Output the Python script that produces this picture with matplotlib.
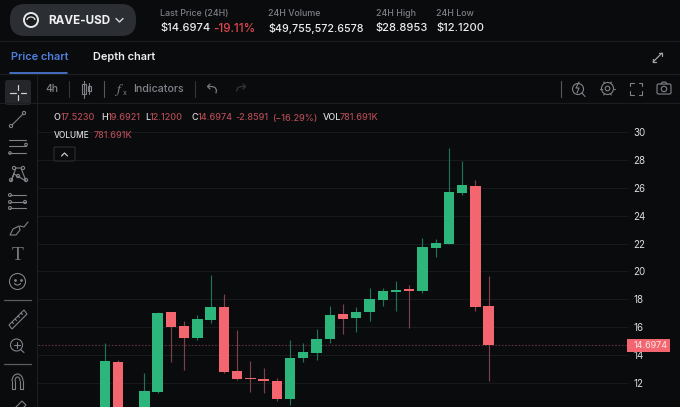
import numpy as np
import matplotlib
matplotlib.use('Agg')
import matplotlib.pyplot as plt
from matplotlib.patches import Circle, FancyBboxPatch, Rectangle, Arc, Polygon

plt.rcParams['font.family'] = ['Inter', 'DejaVu Sans']

# candle values, x is the slot number (slot 2 is off the bottom)
slots = [0, 1, 3, 4, 5, 6, 7, 8, 9, 10, 11, 12, 13, 14, 15, 16, 17, 18, 19, 20, 21, 22, 23, 24, 25, 26, 27, 28, 29]
opens = [9.9, 13.5, 9.9, 11.35, 17.11, 16.08, 15.22, 16.51, 17.42, 12.86, 12.3, 12.3, 12.16, 10.85, 13.77, 14.15, 15.13,
         16.92, 16.66, 17.09, 17.95, 18.52, 18.69, 18.62, 21.68, 21.99, 25.6, 26.15, 17.5]
highs = [14.84, 13.64, 12.69, 17.11, 17.11, 16.44, 16.85, 19.75, 18.38, 15.8, 13.55, 13.05, 12.33, 15.08, 14.89, 15.85, 17.52,
         17.68, 17.47, 18.83, 18.79, 19.31, 19.03, 22.37, 22.32, 28.85, 27.9, 26.56, 19.69]
lows = [9.0, 9.0, 9.0, 11.3, 13.5, 12.93, 15.08, 16.32, 12.69, 12.2, 11.35, 11.25, 10.68, 10.44, 13.52, 13.64, 14.84,
        15.53, 15.68, 16.46, 17.52, 17.16, 15.92, 18.45, 21.0, 21.99, 25.46, 17.16, 12.12]
closes = [13.55, 9.9, 11.4, 17.04, 16.03, 15.22, 16.56, 17.42, 12.81, 12.26, 12.26, 12.12, 10.82, 13.81, 14.2, 15.17, 16.9,
          16.59, 17.11, 18.02, 18.57, 18.67, 18.62, 21.77, 22.04, 25.7, 26.2, 17.47, 14.6974]
y_ticks = [12, 14, 16, 18, 20, 22, 24, 26, 28, 30]
last_price = 14.6974

BG = '#0a0b0d'
GREEN = '#2db67c'
RED = '#f4666f'
GREEN_WICK = '#1d7355'
RED_WICK = '#7d4049'
LINE = '#1c1e22'
ICON = '#7f8288'
LEGEND_RED = '#b14a53'
LEGEND_KEY = '#d8d9db'
W, H = 680, 407

fig = plt.figure(figsize=(W / 100, H / 100), dpi=100, facecolor=BG)

# overlay in pixel coordinates for the app chrome round the chart
ui = fig.add_axes([0, 0, 1, 1], zorder=3)
ui.set_xlim(0, W)
ui.set_ylim(H, 0)
ui.axis('off')
ui.patch.set_alpha(0)


def line(xs, ys, c=ICON, lw=0.8):
    ui.plot(xs, ys, color=c, lw=lw, solid_capstyle='round')


def ring(x, y, r, c=ICON, lw=0.8):
    ui.add_patch(Circle((x, y), r, fill=False, ec=c, lw=lw))


def label(x, y, s, size, c='#e8e9eb', weight='normal', **kw):
    ui.text(x, y, s, fontsize=size, color=c, fontweight=weight, va='center', **kw)


# separators
for y in [41, 74, 103]:
    line([0, W], [y, y], LINE, 0.8)
line([37, 37], [75, H], LINE, 0.8)

# header
ui.add_patch(FancyBboxPatch((10, 4), 126, 32, boxstyle='round,pad=0,rounding_size=15',
                            fc='#2b2e33', ec='none'))
ui.add_patch(Circle((31, 20), 8, fc='#e4e5e6', ec='none'))
ui.add_patch(Circle((31, 20), 6, fc='#1b1c1e', ec='none'))
ui.add_patch(Arc((31, 20), 8, 6, theta1=180, theta2=360, ec='#e4e5e6', lw=0.9))
label(48, 20.5, 'RAVE-USD', 8.4, '#f0f1f2', 'bold')
line([116, 119.5, 123], [18.5, 22, 18.5], '#d8d9db', 1.0)

label(160.5, 13.5, 'Last Price (24H)', 6.4, '#7b7e84', 'medium')
label(160, 28.5, '$14.6974', 8.0, '#eceded', 'medium')
label(213, 28.5, '-19.11%', 8.4, '#e0454f', 'medium')
label(268.5, 13.5, '24H Volume', 6.4, '#7b7e84', 'medium')
label(268.5, 28.5, '$49,755,572.6578', 7.7, '#eceded', 'medium')
label(375.5, 13.5, '24H High', 6.4, '#7b7e84', 'medium')
label(375.5, 28.5, '$28.8953', 8.0, '#eceded', 'medium')
label(436.5, 13.5, '24H Low', 6.4, '#7b7e84', 'medium')
label(436.5, 28.5, '$12.1200', 8.0, '#eceded', 'medium')

# tabs
label(11, 57.5, 'Price chart', 7.9, '#4f7fdc', 'semibold')
label(93, 57.5, 'Depth chart', 7.9, '#eceded', 'semibold')
line([10, 67], [73, 73], '#4f7fdc', 1.2)
line([653, 662], [62, 53], '#a0a3a8', 0.9)
line([653, 653, 656], [59, 62, 62], '#a0a3a8', 0.9)
line([659, 662, 662], [53, 53, 56], '#a0a3a8', 0.9)

# top toolbar
label(45, 89.5, '4h', 7.4, '#80838a', 'medium')
line([68.5, 68.5], [81, 97], '#34363b', 0.8)
line([104, 104], [81, 97], '#55575c', 0.8)
line([194.5, 194.5], [81, 97], '#34363b', 0.8)
line([561, 561], [81, 97], '#55575c', 0.8)
ui.add_patch(Rectangle((82, 84), 3.5, 10, fill=False, ec=ICON, lw=0.8))
line([83.7, 83.7], [81, 98], ICON, 0.8)
ui.add_patch(Rectangle((87.5, 86), 3, 5, fill=False, ec=ICON, lw=0.8))
line([89, 89], [83, 94], ICON, 0.8)
ui.text(119, 89.5, r'$f$', fontsize=10, color=ICON, ha='center', va='center', math_fontfamily='stix')
ui.text(124.5, 93, 'x', fontsize=5, color=ICON, ha='center', va='center')
label(133.5, 89.5, 'Indicators', 7.7, '#80838a', 'medium')
line([208, 212, 215, 216.5, 216], [86.5, 86.5, 87.5, 90, 93], '#77797e', 0.9)
line([210, 207.5, 210], [84, 86.5, 89], '#77797e', 0.9)
line([245, 241, 238, 236.5], [86.5, 86.5, 87.5, 91], '#33353a', 0.9)
line([243, 245.5, 243], [84, 86.5, 89], '#33353a', 0.9)

# right toolbar icons
ring(578, 89, 5.5)
line([582, 585], [93, 96.5])
line([579, 576, 579, 577], [82, 88, 88, 93])
ring(607.5, 88.5, 2.3)
ring(607.5, 88.5, 6)
for a in np.arange(0, 360, 60):
    r = np.radians(a)
    line([607.5 + 6 * np.cos(r), 607.5 + 7.5 * np.cos(r)], [88.5 + 6 * np.sin(r), 88.5 + 7.5 * np.sin(r)])
for sx, sy in [(-1, -1), (1, -1), (1, 1), (-1, 1)]:
    line([636 + sx * 6, 636 + sx * 6, 636 + sx * 2.5], [88.5 + sy * 2.5, 88.5 + sy * 6, 88.5 + sy * 6])
ui.add_patch(FancyBboxPatch((657, 84), 14, 10, boxstyle='round,pad=0,rounding_size=1.5', fill=False, ec=ICON, lw=0.8))
line([661, 662.5, 665.5, 667], [84, 82, 82, 84])
ring(664, 89, 2.7)

# left toolbar
ui.add_patch(FancyBboxPatch((5, 80), 26, 25, boxstyle='round,pad=0,rounding_size=2.5', fc='#24262a', ec='none'))
line([18, 18], [85, 90], '#cfd0d3', 0.9)
line([18, 18], [95, 100], '#cfd0d3', 0.9)
line([10, 15.5], [92.5, 92.5], '#cfd0d3', 0.9)
line([20.5, 26], [92.5, 92.5], '#cfd0d3', 0.9)
# trend line
ring(11, 126, 1.6)
ring(24, 113, 1.6)
line([12, 23], [125, 114])
# parallel channel
for y in [140, 146, 153]:
    line([9, 26], [y, y])
ring(26, 144.5, 1.3)
ring(10, 153, 1.3)
# pattern
line([11, 16, 21, 26, 14, 11], [181, 168, 168, 181, 174, 181])
for px, py in [(11, 180), (14, 168), (23, 168), (26, 180), (18, 176)]:
    ring(px, py, 1.6)
# fib
for y in [195, 202, 208]:
    line([10, 26], [y, y])
for px, py in [(10, 195), (10, 202), (10, 208), (25, 202)]:
    ring(px, py, 1.5)
# brush
ui.add_patch(Polygon([(10, 235), (13, 229), (19, 226), (20, 230), (16, 235)], closed=True, fill=False, ec=ICON, lw=0.8))
line([20, 24, 28], [226, 227, 222])
# text tool
ui.text(18, 255, 'T', fontsize=14, color=ICON, ha='center', va='center', family='Liberation Serif', alpha=0.9)
# emoji
ring(17.5, 281.5, 8)
ui.plot([15, 20.5], [279.5, 279.5], ls='none', marker='o', ms=1, color=ICON)
ui.add_patch(Arc((17.5, 283), 6, 4, theta1=0, theta2=180, ec=ICON, lw=0.8))
line([4, 31], [300, 300], '#5a5c61', 0.9)
# ruler
ui.add_patch(Polygon([(9, 325), (24, 310), (27, 314), (12, 329)], closed=True, fill=False, ec=ICON, lw=0.8))
for k in range(1, 5):
    bx = 9 + 3 * k
    by = 325 - 3 * k
    line([bx, bx + 1.5], [by, by + 1.5])
# zoom
ring(16.5, 345, 6)
line([20.5, 24], [349.5, 352.5])
line([13.5, 19.5], [345, 345])
line([16.5, 16.5], [342, 348])
line([4, 31], [363.5, 363.5], '#5a5c61', 0.9)
# magnet
ui.add_patch(Arc((17.5, 381), 11, 14, theta1=180, theta2=360, ec=ICON, lw=0.8))
ui.add_patch(Arc((17.5, 381), 5, 8, theta1=180, theta2=360, ec=ICON, lw=0.8))
line([12, 12, 15, 15], [381, 388.5, 388.5, 381])
line([20, 20, 23, 23], [381, 388.5, 388.5, 381])
# pencil, cut by the picture edge
ui.add_patch(Polygon([(11, 412), (22, 401), (26, 405), (16, 415)], closed=True, fill=False, ec=ICON, lw=0.8))

# legend lines over the chart
for s, c, x in [('O', LEGEND_KEY, 53), ('17.5230', LEGEND_RED, 60.5), ('H', LEGEND_KEY, 101.5), ('19.6921', LEGEND_RED, 107.5),
                ('L', LEGEND_KEY, 145), ('12.1200', LEGEND_RED, 150), ('C', LEGEND_KEY, 191.5), ('14.6974', LEGEND_RED, 198),
                ('-2.8591', LEGEND_RED, 235.5), ('(−16.29%)', LEGEND_RED, 272.5), ('VOL', LEGEND_KEY, 322.5),
                ('781.691K', LEGEND_RED, 340)]:
    label(x, 118, s, 6.5, c, 'medium')
label(53.5, 136, 'VOLUME', 6.0, LEGEND_KEY, 'medium')
label(94, 136, '781.691K', 6.5, LEGEND_RED, 'medium')
ui.add_patch(FancyBboxPatch((54, 147), 21, 14, boxstyle='round,pad=0,rounding_size=1.5', fc=BG, ec='#2c2e33', lw=0.8))
line([61.5, 64.5, 67.5], [156, 153, 156], '#c8c9cc', 0.9)

# chart axes, placed so the price and slot scales land on the reference pixels
left, right, top, bottom = 38, 628, 105, 407
ax = fig.add_axes([left / W, 1 - bottom / H, (right - left) / W, (bottom - top) / H], zorder=2)
ax.set_facecolor(BG)
ax.set_ylim(30 - (bottom - 132) / 13.94, 30 - (top - 132) / 13.94)
ax.set_xlim((left - 104.7) / 13.24, (right - 104.7) / 13.24)
for sp in ax.spines.values():
    sp.set_visible(False)
ax.set_xticks([])
ax.set_yticks(y_ticks)
ax.yaxis.tick_right()
ax.tick_params(axis='y', length=0, pad=4, labelsize=7, labelcolor='#dcdde0')
ax.grid(axis='y', color='#17191c', lw=0.8)
ax.set_axisbelow(True)

slots = np.array(slots)
opens, highs, lows, closes = map(np.array, (opens, highs, lows, closes))
up = closes >= opens
ax.vlines(slots[up], lows[up], highs[up], color=GREEN_WICK, lw=0.85, zorder=2)
ax.vlines(slots[~up], lows[~up], highs[~up], color=RED_WICK, lw=0.85, zorder=2)
body_low = np.minimum(opens, closes)
body_h = np.maximum(np.abs(closes - opens), 0.09)
ax.bar(slots[up], body_h[up], bottom=body_low[up], width=0.78, color=GREEN, zorder=3)
ax.bar(slots[~up], body_h[~up], bottom=body_low[~up], width=0.78, color=RED, zorder=3)

ax.axhline(last_price, color='#5c3338', lw=0.8, ls=(0, (1.5, 1.5)), zorder=1)

# price tag on the right edge
tag = ax.get_yaxis_transform()
ax.add_patch(Rectangle((0.9985, last_price - 6.2 / 13.94), 43 / 590, 12.4 / 13.94, transform=tag, fc=RED, ec='none',
                       zorder=4, clip_on=False))
ax.text(1 + 5.5 / 590, last_price, f'{last_price:.4f}', transform=tag, fontsize=6.5, color='#fbe9ea',
        va='center', ha='left', zorder=5, clip_on=False)

fig.savefig('out.png', dpi=100, facecolor=BG)
